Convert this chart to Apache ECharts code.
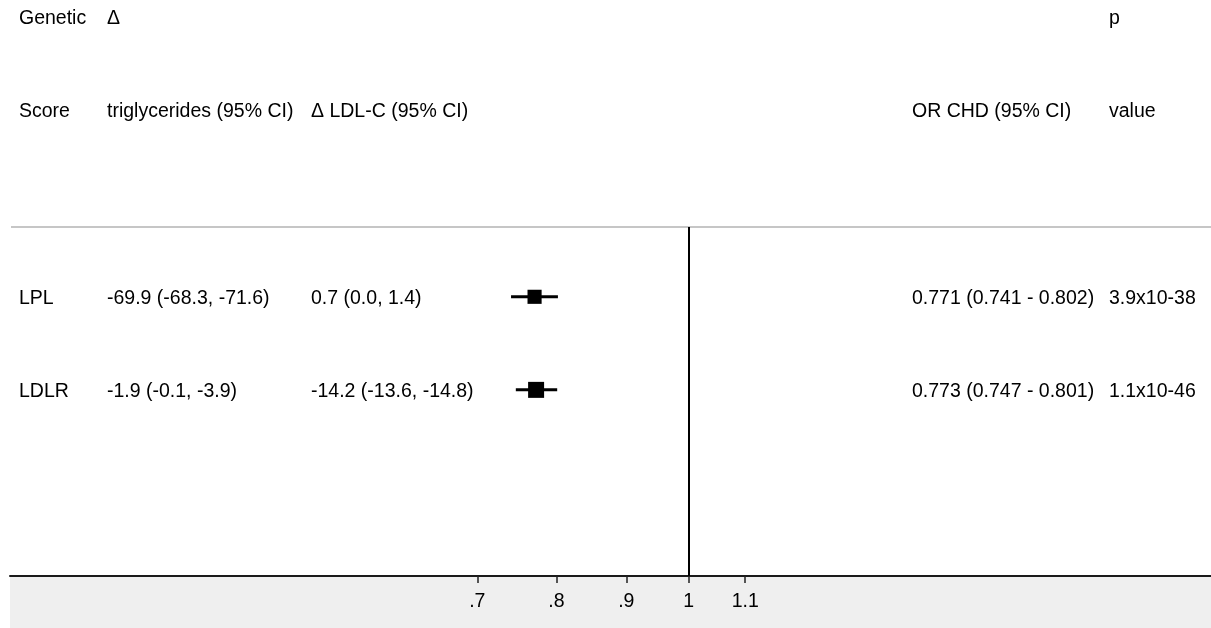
<!DOCTYPE html>
<html>
<head>
<meta charset="utf-8">
<script src="https://cdn.jsdelivr.net/npm/echarts@6/dist/echarts.min.js"></script>
<style>
  html, body { margin: 0; padding: 0; background: #ffffff; }
  #chart { width: 1211px; height: 628px; }
</style>
</head>
<body>
<div id="chart"></div>
<script>
// Forest plot: genetic scores vs. lipid changes and odds ratio of CHD
const scores = ['LPL', 'LDLR'];
const tgDelta = ['-69.9 (-68.3, -71.6)', '-1.9 (-0.1, -3.9)'];
const ldlDelta = ['0.7 (0.0, 1.4)', '-14.2 (-13.6, -14.8)'];
const orCHD = [0.771, 0.773];
const orLow = [0.741, 0.747];
const orHigh = [0.802, 0.801];
const pValues = ['3.9x10-38', '1.1x10-46'];

const tickValues = [0.7, 0.8, 0.9, 1, 1.1];
const tickLabels = ['.7', '.8', '.9', '1', '1.1'];

const FONT = '"Liberation Sans", Arial, sans-serif';
const FS = 19.5;
const TXT = '#000000';

// columns of the table (left edges)
const COL = { score: 19, tg: 107, ldl: 311, or: 912, p: 1109 };

// odds ratios are drawn on a log scale
const ln = Math.log;

// inverse-variance weights set the square size
const se = orCHD.map((_, i) => (ln(orHigh[i]) - ln(orLow[i])) / 3.92);
const w = se.map(s => 1 / (s * s));
const wMax = Math.max(...w);
const BOX = 16;

const markData = orCHD.map((v, i) => [ln(v), ln(orLow[i]), ln(orHigh[i]), i + 1, w[i] / wMax]);
const rowData = scores.map((_, i) => [0, i + 1]);

const fmt3 = v => v.toFixed(3);

const chart = echarts.init(document.getElementById('chart'), null, { renderer: 'canvas' });

function txt(x, y, s) {
  return {
    type: 'text',
    x: x, y: y,
    style: { text: s, fill: TXT, font: FS + 'px ' + FONT, textAlign: 'left', textVerticalAlign: 'middle' },
    silent: true
  };
}

chart.setOption({
  backgroundColor: '#ffffff',
  animation: false,
  grid: { left: 10, right: 0, top: 227, bottom: 52, containLabel: false },
  xAxis: {
    type: 'value',
    min: -1.1451,
    max: 0.8812,
    axisLine: { show: true, lineStyle: { color: '#1a1a1a', width: 2 } },
    axisTick: {
      show: true, length: 7,
      customValues: tickValues.map(ln),
      lineStyle: { color: '#222222', width: 1.5 }
    },
    axisLabel: {
      show: true,
      customValues: tickValues.map(ln),
      margin: 16,
      color: TXT,
      fontFamily: FONT,
      fontSize: FS,
      formatter: v => {
        let best = 0;
        tickValues.forEach((t, i) => { if (Math.abs(ln(t) - v) < Math.abs(ln(tickValues[best]) - v)) best = i; });
        return tickLabels[best];
      }
    },
    splitLine: { show: false }
  },
  yAxis: {
    type: 'value',
    inverse: true,
    min: 0.25,
    max: 4,
    show: false
  },
  graphic: [
    // shaded axis band
    { type: 'rect', z: -10, shape: { x: 10, y: 577, width: 1201, height: 51 }, style: { fill: '#efefef' }, silent: true },
    // rule under the header
    { type: 'line', shape: { x1: 11, y1: 227, x2: 1211, y2: 227 }, style: { stroke: '#c6c6c6', lineWidth: 2 }, silent: true },
    txt(COL.score, 19, 'Genetic'),
    txt(COL.tg, 19, 'Δ'),
    txt(COL.p, 19, 'p'),
    txt(COL.score, 112, 'Score'),
    txt(COL.tg, 112, 'triglycerides (95% CI)'),
    txt(COL.ldl, 112, 'Δ LDL-C (95% CI)'),
    txt(COL.or, 112, 'OR CHD (95% CI)'),
    txt(COL.p, 112, 'value')
  ],
  series: [
    {
      // confidence intervals and point estimates
      type: 'custom',
      silent: true,
      data: markData,
      renderItem: (params, api) => {
        const row = api.value(3);
        const c = api.coord([api.value(0), row]);
        const lo = api.coord([api.value(1), row]);
        const hi = api.coord([api.value(2), row]);
        const side = BOX * Math.sqrt(api.value(4));
        return {
          type: 'group',
          children: [
            { type: 'line', shape: { x1: lo[0], y1: c[1], x2: hi[0], y2: c[1] }, style: { stroke: '#000', lineWidth: 3 } },
            { type: 'rect', shape: { x: c[0] - side / 2, y: c[1] - side / 2, width: side, height: side }, style: { fill: '#000' } }
          ]
        };
      },
      markLine: {
        silent: true,
        symbol: ['none', 'none'],
        label: { show: false },
        lineStyle: { color: '#000', width: 2, type: 'solid' },
        data: [{ xAxis: ln(1) }]
      },
      z: 5
    },
    {
      // table text for each score
      type: 'custom',
      silent: true,
      data: rowData,
      renderItem: (params, api) => {
        const i = params.dataIndex;
        const y = api.coord([0, api.value(1)])[1] + 2;
        const orText = fmt3(orCHD[i]) + ' (' + fmt3(orLow[i]) + ' - ' + fmt3(orHigh[i]) + ')';
        return {
          type: 'group',
          children: [
            txt(COL.score, y, scores[i]),
            txt(COL.tg, y, tgDelta[i]),
            txt(COL.ldl, y, ldlDelta[i]),
            txt(COL.or, y, orText),
            txt(COL.p, y, pValues[i])
          ]
        };
      }
    }
  ]
});
</script>
</body>
</html>
